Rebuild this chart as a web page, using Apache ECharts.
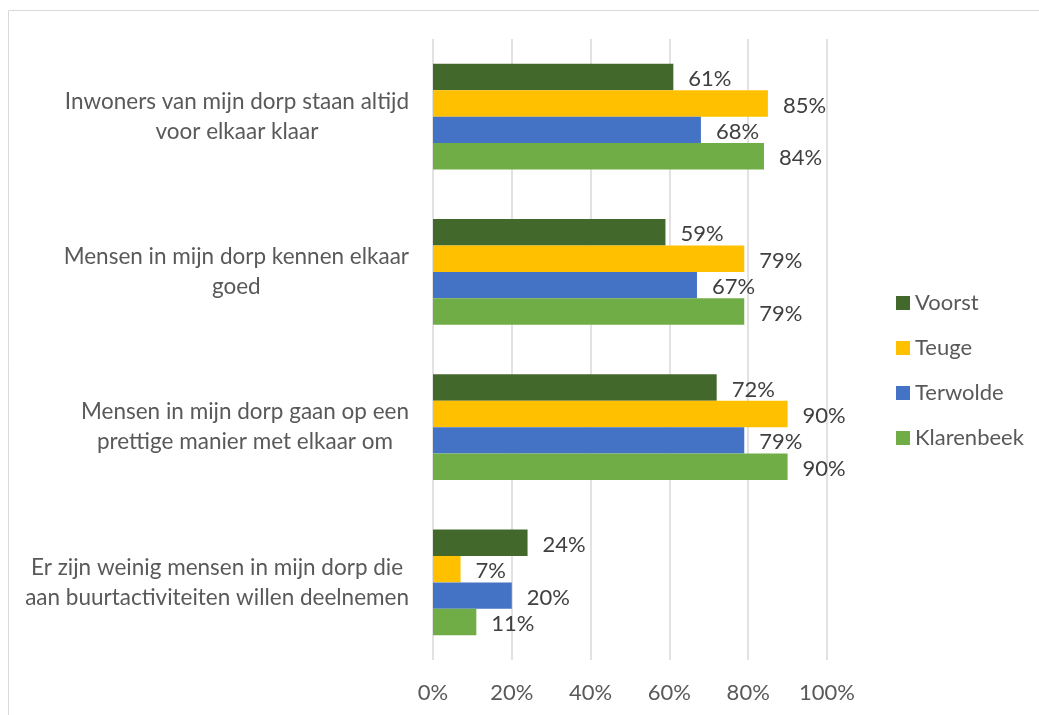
<!DOCTYPE html>
<html>
<head>
<meta charset="utf-8">
<script src="https://cdn.jsdelivr.net/npm/echarts@6/dist/echarts.min.js"></script>
<style>
  html, body { margin: 0; padding: 0; background: #fff; }
  #chart { width: 1039px; height: 715px; }
</style>
</head>
<body>
<div id="chart"></div>
<script>
var categories = [
    'Inwoners van mijn dorp staan altijd\nvoor elkaar klaar',
    'Mensen in mijn dorp kennen elkaar\ngoed',
    'Mensen in mijn dorp gaan op een\nprettige manier met elkaar om',
    'Er zijn weinig mensen in mijn dorp die\naan buurtactiviteiten willen deelnemen'
];
var seriesNames = ['Voorst', 'Teuge', 'Terwolde', 'Klarenbeek'];
var voorst = [61, 59, 72, 24];
var teuge = [85, 79, 90, 7];
var terwolde = [68, 67, 79, 20];
var klarenbeek = [84, 79, 90, 11];
var xTicks = [0, 20, 40, 60, 80, 100];

var colors = ['#43682b', '#ffc000', '#4472c4', '#70ad47'];
var font = 'Lato';

var myChart = echarts.init(document.getElementById('chart'));

function makeSeries(name, data, color) {
    return {
        name: name,
        type: 'bar',
        data: data,
        barGap: '0%',
        barCategoryGap: '32%',
        itemStyle: { color: color },
        label: {
            show: true,
            position: 'right',
            distance: 15,
            offset: [0, 2],
            formatter: '{c}%',
            color: '#404040',
            fontFamily: font,
            fontSize: 22
        }
    };
}

var option = {
    animation: false,
    color: colors,
    graphic: [{
        type: 'rect',
        shape: { x: 8.5, y: 10.5, width: 1100, height: 800 },
        style: { fill: 'none', stroke: '#d9d9d9', lineWidth: 1 },
        silent: true
    }],
    legend: {
        orient: 'vertical',
        left: 891,
        top: 287,
        itemWidth: 14,
        itemHeight: 14,
        itemGap: 23,
        icon: 'rect',
        textStyle: { color: '#595959', fontFamily: font, fontSize: 22 },
        data: seriesNames
    },
    grid: {
        left: 433,
        right: 212,
        top: 39,
        bottom: 55,
        containLabel: false
    },
    xAxis: {
        type: 'value',
        min: 0,
        max: 100,
        interval: 20,
        axisLine: { show: false },
        axisTick: { show: false },
        splitLine: { lineStyle: { color: '#d9d9d9', width: 1.5 } },
        axisLabel: {
            color: '#595959',
            fontFamily: font,
            fontSize: 22,
            margin: 22,
            formatter: function (v) { return xTicks.indexOf(v) >= 0 ? v + '%' : ''; }
        }
    },
    yAxis: {
        type: 'category',
        inverse: true,
        data: categories,
        axisLine: { show: false },
        axisTick: { show: false },
        axisLabel: {
            margin: 24,
            align: 'right',
            color: '#595959',
            fontFamily: font,
            fontSize: 22.5,
            lineHeight: 30,
            formatter: function (v) {
                return v.split('\n').map(function (l) { return '{c|' + l + '}'; }).join('\n');
            },
            rich: {
                c: { align: 'center', color: '#595959', fontFamily: font, fontSize: 22.5, lineHeight: 30 }
            }
        }
    },
    series: [
        makeSeries(seriesNames[0], voorst, colors[0]),
        makeSeries(seriesNames[1], teuge, colors[1]),
        makeSeries(seriesNames[2], terwolde, colors[2]),
        makeSeries(seriesNames[3], klarenbeek, colors[3])
    ]
};

myChart.setOption(option);
</script>
</body>
</html>
